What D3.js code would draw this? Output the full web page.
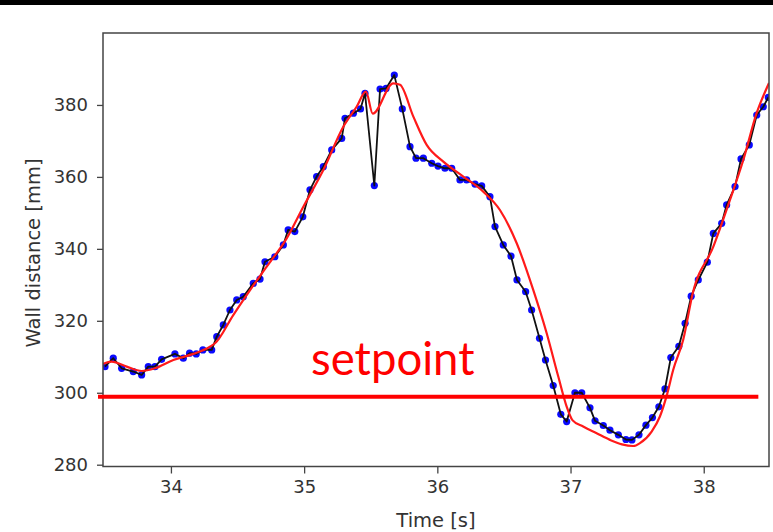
<!DOCTYPE html>
<html>
<head>
<meta charset="utf-8">
<script src="https://cdn.jsdelivr.net/npm/d3@7"></script>
<style>
  html, body { margin: 0; padding: 0; background: #fff; }
  svg { display: block; }
</style>
</head>
<body>
<svg id="chart" width="773" height="532"></svg>
<script>
// Measured wall distance (blue dots + black line)
const measTime = [33.505,33.567,33.63,33.717,33.78,33.83,33.88,33.93,34.03,34.093,34.14,34.19,34.24,34.306,34.344,34.393,34.443,34.494,34.543,34.618,34.669,34.706,34.78,34.844,34.88,34.93,34.99,35.044,35.094,35.144,35.207,35.282,35.307,35.37,35.423,35.457,35.527,35.57,35.615,35.677,35.737,35.795,35.84,35.895,35.958,36.005,36.057,36.108,36.17,36.22,36.283,36.333,36.395,36.433,36.495,36.553,36.598,36.663,36.708,36.767,36.812,36.87,36.927,36.971,37.033,37.084,37.146,37.184,37.246,37.296,37.359,37.416,37.461,37.514,37.566,37.615,37.663,37.709,37.753,37.813,37.86,37.906,37.959,38.027,38.072,38.135,38.172,38.235,38.28,38.342,38.398,38.447,38.485];
const measDist = [307.25,309.6,306.8,305.9,304.95,307.25,307.25,309.3,310.8,309.6,311.0,310.8,311.9,311.9,315.6,318.85,323.0,325.8,326.7,330.4,331.6,336.4,337.8,341.1,345.25,344.8,348.9,356.4,360.1,362.85,367.5,370.7,376.3,377.7,378.9,383.25,357.6,384.4,384.6,388.3,378.9,368.4,365.2,365.2,363.8,363.0,362.4,362.4,359.15,359.15,358.0,357.5,354.5,346.2,341.1,338.0,331.35,328.1,323.0,315.15,309.1,302.0,294.0,292.0,300.0,300.0,295.8,292.2,290.9,289.6,288.3,287.0,286.9,288.3,291.0,293.1,296.1,301.05,309.8,312.9,319.3,326.85,331.35,336.3,344.3,347.1,352.2,357.3,365.0,368.9,377.2,379.5,382.1];

// Filtered / model estimate (red curve)
const estTime = [33.49,33.555,33.668,33.78,33.88,34.018,34.168,34.293,34.331,34.468,34.594,34.719,34.869,34.994,35.144,35.294,35.394,35.464,35.515,35.669,35.72,35.82,35.92,36.045,36.195,36.345,36.47,36.596,36.72,36.821,36.908,36.971,37.014,37.095,37.196,37.296,37.386,37.471,37.521,37.609,37.671,37.722,37.771,37.846,37.918,38.072,38.197,38.297,38.397,38.49];
const estDist = [308.0,308.65,307.25,306.05,306.8,309.1,310.8,312.8,313.75,321.6,328.55,335.05,342.9,351.7,361.9,373.95,379.5,383.7,377.6,386.0,385.6,376.75,368.9,364.25,360.1,355.9,350.8,341.55,328.6,316.55,304.5,296.15,292.4,290.6,288.75,286.9,285.65,285.2,286.0,289.2,293.4,299.2,306.4,314.75,327.7,340.6,353.6,364.7,377.7,386.1];

// Setpoint annotation
const setpointValue = 298.9;
const setpointSpan = [33.4525, 38.41];
const setpointLabel = "setpoint";

// Axes
const xTicks = [34, 35, 36, 37, 38];
const yTicks = [280, 300, 320, 340, 360, 380];
const xLabel = "Time [s]";
const yLabel = "Wall distance [mm]";

const svg = d3.select("#chart");
const L = 103, R = 769, T = 33, B = 466.5;

const x = d3.scaleLinear().domain([33.49, 38.49]).range([L, R]);
const y = d3.scaleLinear().domain([279.5, 400]).range([B, T]);

// top black band
svg.append("rect").attr("x", 0).attr("y", 0).attr("width", 773).attr("height", 5).attr("fill", "#000");

svg.append("defs").append("clipPath").attr("id", "clip")
  .append("rect").attr("x", L).attr("y", T).attr("width", R - L).attr("height", B - T);

const meas = measTime.map((t, i) => ({t, v: measDist[i]}));
const est = estTime.map((t, i) => ({t, v: estDist[i]}));

const g = svg.append("g").attr("clip-path", "url(#clip)");

// blue dots
g.selectAll("circle.m").data(meas).join("circle")
  .attr("class", "m")
  .attr("cx", d => x(d.t)).attr("cy", d => y(d.v)).attr("r", 3.6)
  .attr("fill", "#0a0aff");

const line = d3.line().x(d => x(d.t)).y(d => y(d.v));

g.append("path").datum(meas).attr("d", line)
  .attr("fill", "none").attr("stroke", "#111").attr("stroke-width", 1.8).attr("stroke-linejoin", "round");

g.append("path").datum(est).attr("d", d3.line().x(d => x(d.t)).y(d => y(d.v)).curve(d3.curveMonotoneX))
  .attr("fill", "none").attr("stroke", "#ff1a1a").attr("stroke-width", 2.2).attr("stroke-linejoin", "round");

// axes
const axisColor = "#444";
const xAxis = svg.append("g").attr("transform", `translate(0,${B})`)
  .call(d3.axisBottom(x).tickValues(xTicks).tickFormat(d3.format("d")).tickSizeInner(7).tickSizeOuter(0).tickPadding(7));
const yAxis = svg.append("g").attr("transform", `translate(${L},0)`)
  .call(d3.axisLeft(y).tickValues(yTicks).tickFormat(d3.format("d")).tickSizeInner(6).tickSizeOuter(0).tickPadding(9));
[xAxis, yAxis].forEach(a => {
  a.selectAll("path.domain").remove();
  a.selectAll("line").attr("stroke", axisColor).attr("stroke-width", 1.3);
  a.selectAll("text").attr("fill", "#333").attr("font-family", "DejaVu Sans").attr("font-size", 18);
});

// frame
svg.append("rect").attr("x", L).attr("y", T).attr("width", R - L).attr("height", B - T)
  .attr("fill", "none").attr("stroke", axisColor).attr("stroke-width", 1.5);

// axis labels
svg.append("text").attr("x", 436).attr("y", 527).attr("text-anchor", "middle")
  .attr("font-family", "DejaVu Sans").attr("font-size", 19.5).attr("fill", "#333").text(xLabel);
svg.append("text").attr("transform", `translate(40,253) rotate(-90)`).attr("text-anchor", "middle")
  .attr("font-family", "DejaVu Sans").attr("font-size", 19.5).attr("fill", "#333").text(yLabel);

// setpoint
svg.append("line")
  .attr("x1", x(setpointSpan[0])).attr("x2", x(setpointSpan[1]))
  .attr("y1", y(setpointValue)).attr("y2", y(setpointValue))
  .attr("stroke", "#ff0000").attr("stroke-width", 4);
svg.append("text").attr("x", 311).attr("y", 374.5)
  .attr("font-family", "Lato").attr("font-size", 45.5).attr("fill", "#ff0000").text(setpointLabel);
</script>
</body>
</html>
